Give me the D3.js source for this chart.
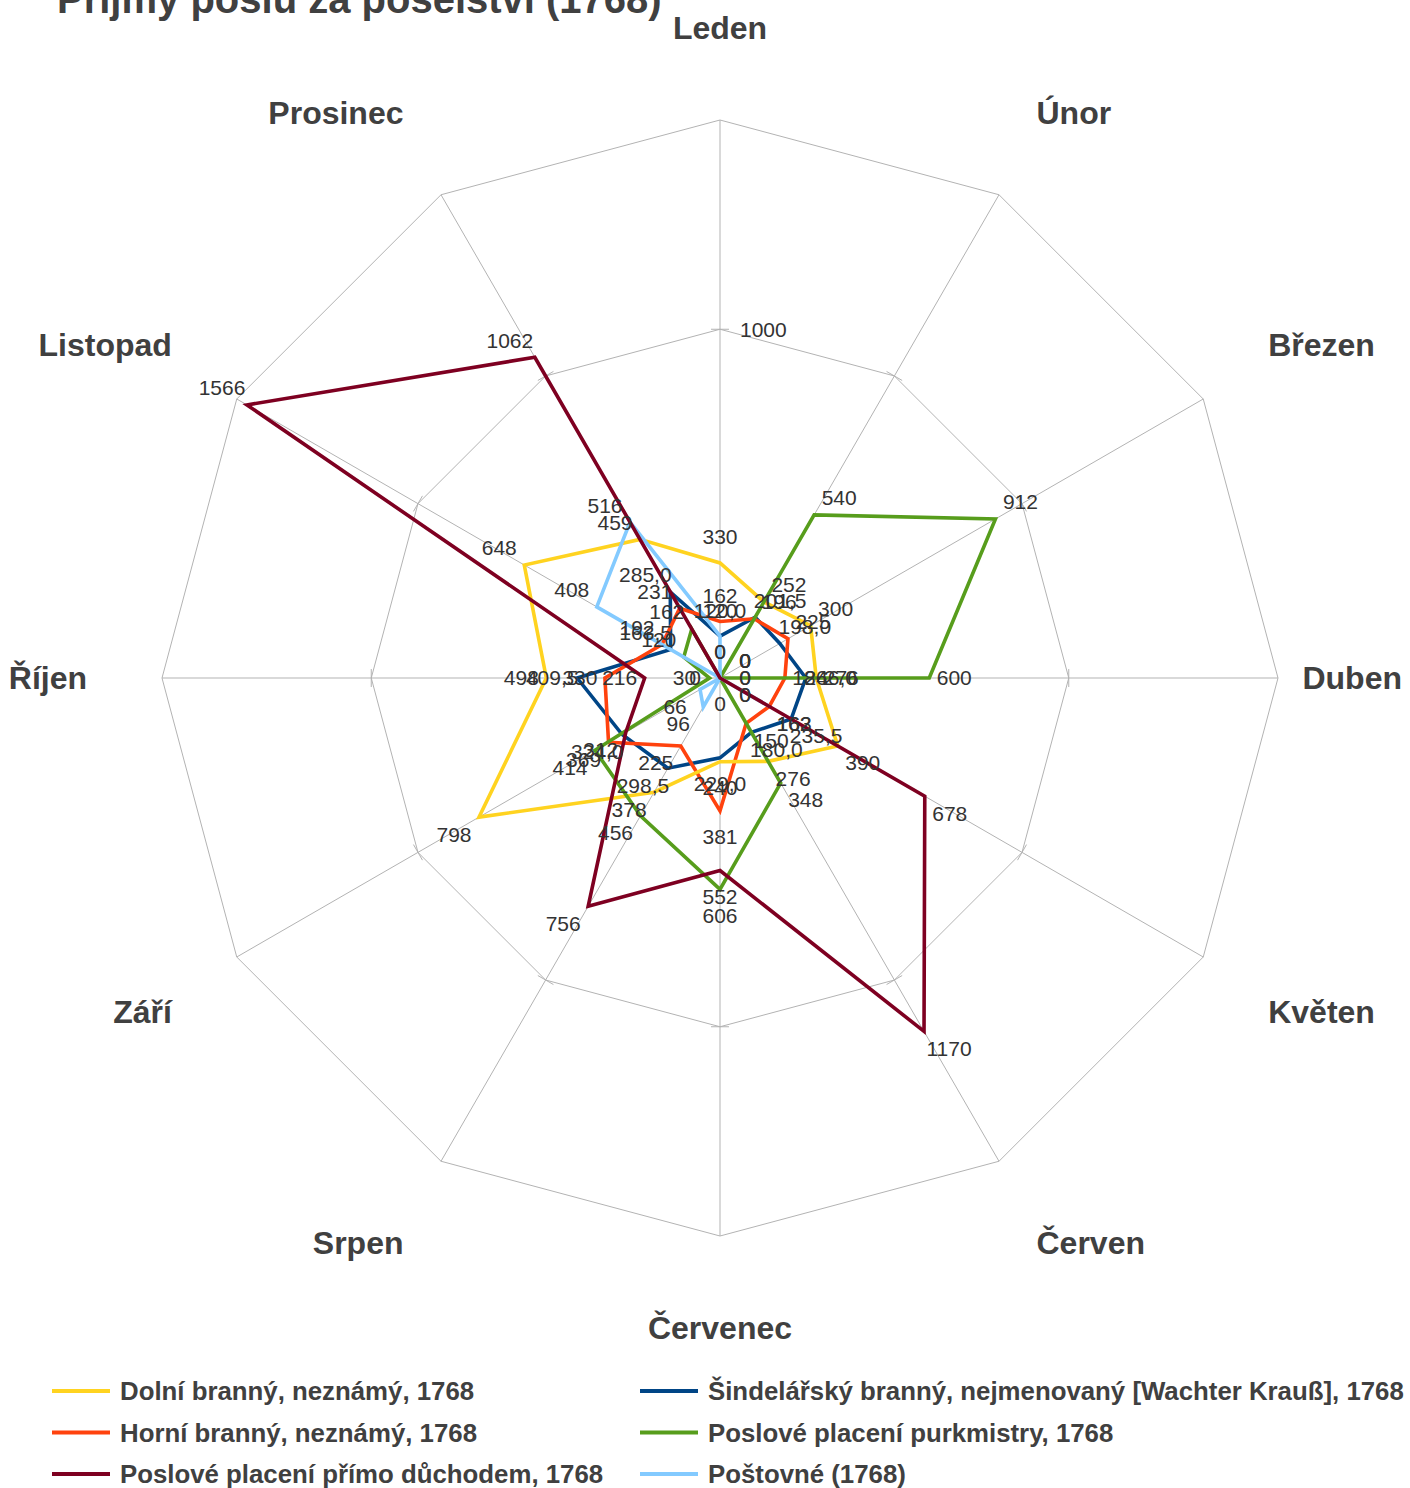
<!DOCTYPE html>
<html>
<head>
<meta charset="utf-8">
<script src="https://cdn.jsdelivr.net/npm/d3@7"></script>
<style>
  html, body { margin: 0; padding: 0; background: #fff; }
  svg { display: block; font-family: "Liberation Sans", Arial, sans-serif; }
</style>
</head>
<body>
<svg id="chart" width="1410" height="1488"></svg>
<script>
// Months of the year 1768 (one spoke each, clockwise from the top)
const months = ["Leden", "Únor", "Březen", "Duben", "Květen", "Červen",
                "Červenec", "Srpen", "Září", "Říjen", "Listopad", "Prosinec"];

// Payments per month for each messenger group
const dolniBranny     = [330, 252, 300, 276, 390, 276, 240, 378, 798, 498, 648, 459];
const horniBranny     = [162, 196, 225, 186, 163, 150, 381, 225, 369, 330, 192, 231];
const sindelarsky     = [120, 201.5, 198, 246, 235.5, 180, 229, 298.5, 324, 409.5, 163.5, 285];
const purkmistri      = [0, 540, 912, 600, 0, 348, 606, 456, 414, 30, 120, 162];
const duchodem        = [0, 0, 0, 0, 678, 1170, 552, 756, 312, 216, 1566, 1062];
const postovne        = [120, 0, 0, 0, 162, 0, 0, 96, 66, 0, 408, 516];

// Radial axis
const axisMax = 1600;
const gridLevels = [1000, 1600];
const tickLabels = ["1000"];

const series = [
  { name: "Šindelářský branný, nejmenovaný [Wachter Krauß], 1768", values: sindelarsky, color: "#004586", decimals: true },
  { name: "Horní branný, neznámý, 1768", values: horniBranny, color: "#ff420e" },
  { name: "Dolní branný, neznámý, 1768", values: dolniBranny, color: "#ffd320" },
  { name: "Poslové placení purkmistry, 1768", values: purkmistri, color: "#579d1c" },
  { name: "Poslové placení přímo důchodem, 1768", values: duchodem, color: "#7e0021" },
  { name: "Poštovné (1768)", values: postovne, color: "#83caff" }
];

// Legend order (two columns, row by row)
const legendOrder = [
  "Dolní branný, neznámý, 1768",
  "Šindelářský branný, nejmenovaný [Wachter Krauß], 1768",
  "Horní branný, neznámý, 1768",
  "Poslové placení purkmistry, 1768",
  "Poslové placení přímo důchodem, 1768",
  "Poštovné (1768)"
];

const W = 1410, H = 1488;
const cx = 720, cy = 678, R = 558;
const svg = d3.select("#chart");

const r = d3.scaleLinear().domain([0, axisMax]).range([0, R]);
const angle = d3.scaleLinear().domain([0, months.length]).range([0, 2 * Math.PI]);
const ux = i => Math.sin(angle(i));
const uy = i => -Math.cos(angle(i));

const g = svg.append("g").attr("transform", `translate(${cx},${cy})`);
const gridColor = "#b3b3b3";

// Grid polygons
const ringLine = d3.lineRadial()
  .angle((d, i) => angle(i))
  .radius(d => r(d))
  .curve(d3.curveLinearClosed);
gridLevels.forEach(level => {
  g.append("path")
    .attr("d", ringLine(months.map(() => level)))
    .attr("fill", "none")
    .attr("stroke", gridColor)
    .attr("stroke-width", 1);
});

// Spokes
months.forEach((m, i) => {
  g.append("line")
    .attr("x1", 0).attr("y1", 0)
    .attr("x2", r(axisMax) * ux(i)).attr("y2", r(axisMax) * uy(i))
    .attr("stroke", gridColor).attr("stroke-width", 1);
});

// Tick marks across every spoke at the inner grid level
months.forEach((m, i) => {
  const px = r(gridLevels[0]) * ux(i), py = r(gridLevels[0]) * uy(i);
  const tx = -uy(i) * 9, ty = ux(i) * 9;
  g.append("line")
    .attr("x1", px - tx).attr("y1", py - ty)
    .attr("x2", px + tx).attr("y2", py + ty)
    .attr("stroke", gridColor).attr("stroke-width", 1);
});

// Value label on the vertical axis
g.append("text")
  .attr("x", 20)
  .attr("y", -r(+tickLabels[0]))
  .attr("dy", "0.35em")
  .attr("font-size", 21)
  .attr("fill", "#333")
  .text(tickLabels[0]);

// Month labels
const monthFont = 32;
months.forEach((m, i) => {
  const t = g.append("text")
    .attr("font-size", monthFont)
    .attr("font-weight", "bold")
    .attr("fill", "#404040")
    .attr("text-anchor", "middle")
    .attr("dy", "0.35em")
    .text(m);
  const w = t.node().getComputedTextLength();
  const sx = Math.abs(ux(i)) < 0.05 ? 0 : Math.sign(ux(i));
  const sy = Math.abs(uy(i)) < 0.05 ? 0 : Math.sign(uy(i));
  let x = ux(i) * 633 + sx * w / 2;
  const y = uy(i) * 633 + sy * 17;
  // keep the label inside the drawing area
  if (cx + x + w / 2 > W - 8) x = W - 8 - w / 2 - cx;
  if (cx + x - w / 2 < 8) x = 8 + w / 2 - cx;
  t.attr("x", x).attr("y", y);
});

// Series lines
const seriesLine = d3.lineRadial()
  .angle((d, i) => angle(i))
  .radius(d => r(d))
  .curve(d3.curveLinearClosed);

const drawOrder = ["#004586", "#ff420e", "#ffd320", "#579d1c", "#83caff", "#7e0021"];
drawOrder.forEach(col => {
  const s = series.find(d => d.color === col);
  g.append("path")
    .attr("d", seriesLine(s.values))
    .attr("fill", "none")
    .attr("stroke", s.color)
    .attr("stroke-width", 3.6)
    .attr("stroke-linejoin", "miter");
});

// Data labels
const fmt = (v, dec) => dec ? v.toFixed(1).replace(".", ",") : String(v);
series.forEach(s => {
  s.values.forEach((v, i) => {
    const px = r(v) * ux(i), py = r(v) * uy(i);
    const sx = Math.abs(ux(i)) < 0.05 ? 0 : Math.sign(ux(i));
    const vertical = Math.abs(ux(i)) < 0.05;
    const sy = Math.abs(uy(i)) < 0.05 ? 0 : Math.sign(uy(i));
    const ox = sx * 25;
    const oy = vertical ? sy * 26 : sy * 17;
    g.append("text")
      .attr("x", px + ox)
      .attr("y", py + oy)
      .attr("dy", "0.35em")
      .attr("text-anchor", "middle")
      .attr("font-size", 21)
      .attr("fill", "#333")
      .text(fmt(v, s.decimals));
  });
});

// Title
svg.append("text")
  .attr("x", 57)
  .attr("y", 13)
  .attr("font-size", 40)
  .attr("font-weight", "bold")
  .attr("fill", "#404040")
  .text("Příjmy poslů za poselství (1768)");

// Legend
const legend = svg.append("g");
legendOrder.forEach((name, k) => {
  const s = series.find(d => d.name === name);
  const col = k % 2, row = Math.floor(k / 2);
  const x0 = col === 0 ? 52 : 640;
  const y0 = 1391 + row * 41.5;
  legend.append("line")
    .attr("x1", x0).attr("x2", x0 + 58)
    .attr("y1", y0).attr("y2", y0)
    .attr("stroke", s.color).attr("stroke-width", 4);
  legend.append("text")
    .attr("x", x0 + 68).attr("y", y0)
    .attr("dy", "0.35em")
    .attr("font-size", 25.8)
    .attr("font-weight", "bold")
    .attr("fill", "#404040")
    .text(s.name);
});
</script>
</body>
</html>
